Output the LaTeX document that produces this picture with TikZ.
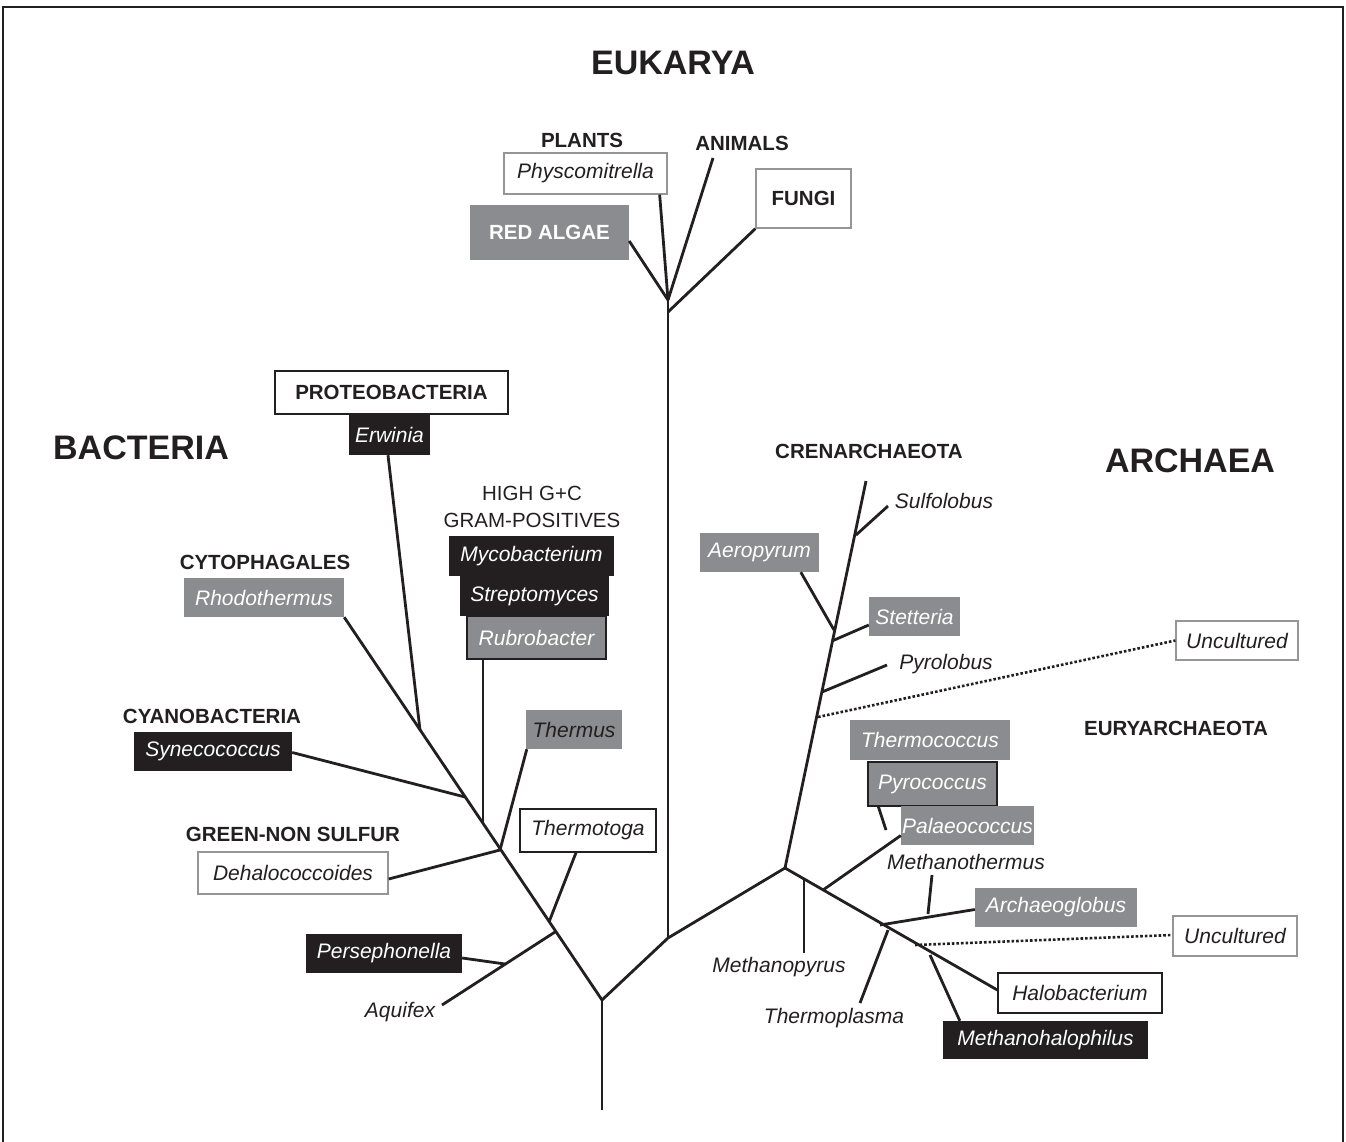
\documentclass[tikz,border=0pt]{standalone}
\usepackage{fontspec}
\setmainfont{Liberation Sans}
\definecolor{ink}{RGB}{35,31,32}
\definecolor{boxgray}{RGB}{139,140,143}
\definecolor{bordergray}{RGB}{150,150,150}
\tikzset{
  br/.style={line width=2.8pt, draw=ink},
  dotbr/.style={line width=2.6pt, draw=ink, dotted},
  lab/.style={font=\fontsize{21}{23}\selectfont\itshape, inner sep=0pt, text=ink},
  grp/.style={font=\fontsize{20.5}{22}\selectfont\bfseries, inner sep=0pt, text=ink},
  reg/.style={font=\fontsize{20.5}{22}\selectfont, inner sep=0pt, text=ink},
  big/.style={font=\fontsize{34}{38}\selectfont\bfseries, inner sep=0pt, text=ink},
  bx/.style={inner sep=0pt, font=\fontsize{21}{23}\selectfont\itshape},
  gbox/.style={bx, fill=boxgray, text=white},
  kbox/.style={bx, fill=ink, text=white},
  wbox/.style={bx, fill=white, draw=bordergray, line width=1.3pt, text=ink},
  wkbox/.style={bx, fill=white, draw=ink, line width=1.3pt, text=ink},
  sz/.style 2 args={minimum width=#1pt, minimum height=#2pt}
}
\begin{document}
\begin{tikzpicture}[x=1pt,y=-1pt]
\useasboundingbox (0,0) rectangle (1346,1142);
\draw[line width=1.2pt, draw=ink] (3,1142) -- (3,7) -- (1343,7) -- (1343,1142);

% titles
\node[big] (euk) at (673,63) {EUKARYA};
\node[big] (bac) at (141,448) {BACTERIA};
\node[big] (arc) at (1190,461) {ARCHAEA};

% Eukarya
\node[grp] (plants) at (582,140) {PLANTS};
\node[grp] (animals) at (742,143) {ANIMALS};
\node[wbox, sz={163}{41}] (phy) at (585.5,173.5) {Physcomitrella};
\node[gbox, sz={159}{55}, font=\fontsize{20.5}{22}\selectfont\bfseries] (red) at (549.5,232.5) {RED ALGAE};
\node[wbox, sz={95}{59}, font=\fontsize{20.5}{22}\selectfont\bfseries] (fungi) at (803.5,198.5) {FUNGI};

\coordinate (eJ) at (668,300);
\coordinate (eJ2) at (668,312);
\coordinate (aniE) at (713,158);
\coordinate (trunkB) at (668,938);
\coordinate (root) at (602,1000);
\coordinate (rootE) at (602,1110);

\draw[br] ([yshift=-8.5pt]red.east) -- (eJ);
\draw[br] ([xshift=-8pt]phy.south east) -- (eJ);
\draw[br] (aniE) -- (eJ);
\draw[br] (fungi.south west) -- (eJ2);
\draw[br] (eJ) -- (trunkB);
\draw[br] (trunkB) -- (root);
\draw[br] (root) -- (rootE);

% Bacteria
\node[wkbox, sz={233}{43}, font=\fontsize{20.5}{22}\selectfont\bfseries] (proteo) at (391.5,392.5) {PROTEOBACTERIA};
\node[kbox, sz={81}{40}] (erw) at (389.5,435) {Erwinia};
\node[reg] (hgc1) at (532,493) {HIGH G+C};
\node[reg] (hgc2) at (532,520) {GRAM-POSITIVES};
\node[kbox, sz={165}{40}] (myco) at (531.5,556) {Mycobacterium};
\node[kbox, sz={149}{40}] (strep) at (534.5,596) {Streptomyces};
\node[gbox, draw=ink, line width=1.3pt, sz={139}{43}] (rubro) at (536.5,637.5) {Rubrobacter};
\node[grp] (cyto) at (265,562) {CYTOPHAGALES};
\node[gbox, sz={160}{39}] (rhodo) at (264,597.5) {Rhodothermus};
\node[grp] (cyano) at (212,716) {CYANOBACTERIA};
\node[kbox, sz={158}{39}] (syn) at (213,751.5) {Synecococcus};
\node[gbox, text=ink, sz={96}{39}] (thermus) at (574,729.5) {Thermus};
\node[grp] (gns) at (293,834) {GREEN-NON SULFUR};
\node[wbox, sz={190}{42}] (dehalo) at (293,873) {Dehalococcoides};
\node[wkbox, sz={136}{43}] (ttg) at (588,830.5) {Thermotoga};
\node[kbox, sz={156}{39}] (perse) at (384,953.5) {Persephonella};
\node[lab] (aquifex) at (400,1012) {Aquifex};

\coordinate (bErw) at (420,730);
\coordinate (bSyn) at (465,797);
\coordinate (bRub) at (483,822);
\coordinate (bThr) at (500,850);
\coordinate (bTtg) at (549,922);
\coordinate (bAq) at (555,932);
\coordinate (bPer) at (505,964);
\coordinate (aqE) at (442,1005);

\draw[br] (rhodo.south east) -- (root);
\draw[br] ([xshift=-1.5pt]erw.south) -- (bErw);
\draw[br] ([xshift=-53.5pt]rubro.south) -- (bRub);
\draw[br] ([yshift=-1pt]syn.east) -- (bSyn);
\draw[br] ([xshift=1pt]thermus.south west) -- (bThr);
\draw[br] ([yshift=-6pt]dehalo.east) -- (bThr);
\draw[br] ([xshift=-12pt]ttg.south) -- (bTtg);
\draw[br] (bAq) -- (aqE);
\draw[br] ([yshift=-4.5pt]perse.east) -- (bPer);

% Archaea
\node[grp] (cren) at (869,451) {CRENARCHAEOTA};
\node[lab] (sulfo) at (944,501) {Sulfolobus};
\node[gbox, sz={119}{39}] (aero) at (759.5,552.5) {Aeropyrum};
\node[gbox, sz={91}{39}] (stet) at (914.5,616.5) {Stetteria};
\node[lab] (pyrolobus) at (946,664) {Pyrolobus};
\node[wbox, sz={122}{39}] (unc1) at (1237,640.5) {Uncultured};
\node[grp] (eury) at (1176,728) {EURYARCHAEOTA};
\node[gbox, sz={160}{40}] (thermoc) at (930,740) {Thermococcus};
\node[gbox, draw=ink, line width=1.3pt, sz={129}{44}] (pyroc) at (932.5,784) {Pyrococcus};
\node[gbox, sz={133}{39}] (palaeo) at (967.5,825.5) {Palaeococcus};
\node[lab] (mthermus) at (966,862) {Methanothermus};
\node[gbox, sz={162}{39}] (archaeo) at (1056,907.5) {Archaeoglobus};
\node[wbox, sz={124}{40}] (unc2) at (1235,936) {Uncultured};
\node[lab] (mpyrus) at (779,967) {Methanopyrus};
\node[lab] (tplasma) at (834,1018) {Thermoplasma};
\node[wkbox, sz={164}{40}] (halo) at (1080,993) {Halobacterium};
\node[kbox, sz={205}{38}] (mhalo) at (1045.5,1040) {Methanohalophilus};

\coordinate (aV) at (785,868);
\coordinate (crenTop) at (866,481);
\coordinate (cSul) at (856,535);
\coordinate (sulE) at (888,506);
\coordinate (cAer) at (834,630);
\coordinate (cSte) at (832,641);
\coordinate (cPyr) at (822,692);
\coordinate (pyrE) at (887,665);
\coordinate (cUnc) at (818,717);
\coordinate (eMpy) at (804,878);
\coordinate (mpyE) at (804,953);
\coordinate (ePal) at (823,890);
\coordinate (pSub) at (886,830);
\coordinate (eArc) at (880,925);
\coordinate (mtJ) at (928,914);
\coordinate (mtE) at (932,875);
\coordinate (eTpl) at (888,930);
\coordinate (tplE) at (860,1003);
\coordinate (eUnc) at (915,945);
\coordinate (eMhl) at (930,955);

\draw[br] (trunkB) -- (aV);
\draw[br] (aV) -- (crenTop);
\draw[br] (cSul) -- (sulE);
\draw[br] ([xshift=101pt]aero.south west) -- (cAer);
\draw[br] ([yshift=-8.5pt]stet.west) -- (cSte);
\draw[br] (cPyr) -- (pyrE);
\draw[dotbr] (cUnc) -- (unc1.west);
\draw[br] (aV) -- ([yshift=3pt]halo.west);
\draw[br] (eMpy) -- (mpyE);
\draw[br] (ePal) -- ([yshift=-10pt]palaeo.west);
\draw[br] (pSub) -- ([xshift=11pt]pyroc.south west);
\draw[br] (eArc) -- ([yshift=-2pt]archaeo.west);
\draw[br] (mtJ) -- (mtE);
\draw[br] (eTpl) -- (tplE);
\draw[dotbr] (eUnc) -- ([yshift=1pt]unc2.west);
\draw[br] (eMhl) -- ([xshift=17pt]mhalo.north west);
\end{tikzpicture}
\end{document}
